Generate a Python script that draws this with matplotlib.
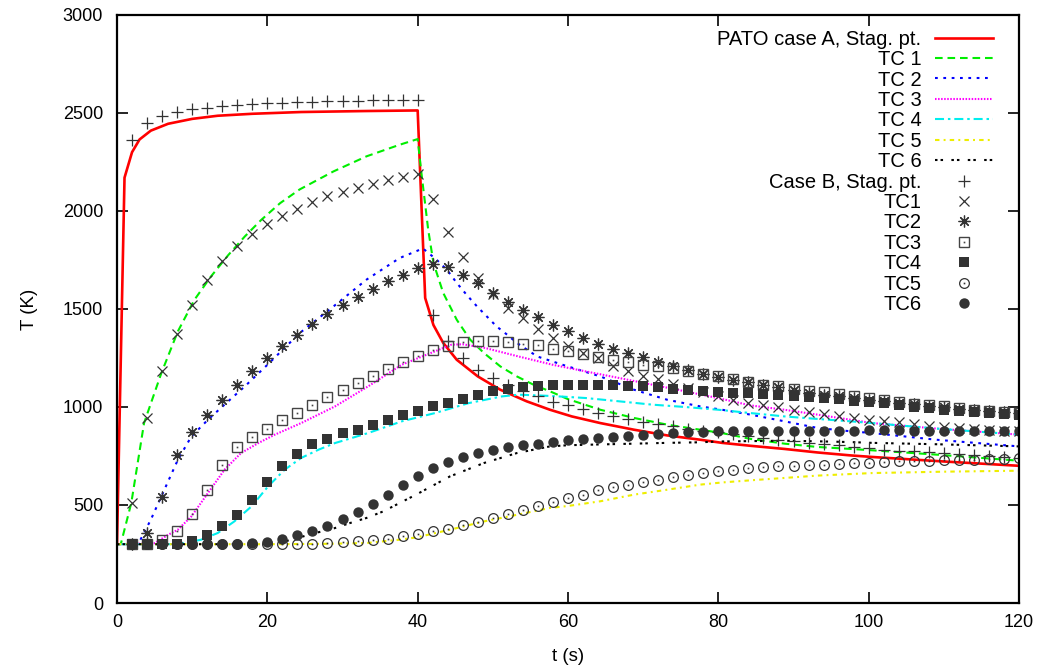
import matplotlib
matplotlib.use("Agg")
import matplotlib.pyplot as plt
from matplotlib.legend_handler import HandlerTuple
import numpy as np

plt.rcParams['font.family'] = ['Liberation Sans', 'DejaVu Sans']
plt.rcParams['lines.scale_dashes'] = False

# ---------------- data ----------------
# experimental time grid (markers), s
t_exp = list(range(2, 121, 2))

caseB_stag = [2360, 2450, 2485, 2505, 2518, 2528, 2535, 2540, 2545, 2550,
              2553, 2555, 2557, 2559, 2561, 2563, 2564, 2566, 2567, 2568,
              1467, 1335, 1251, 1190, 1148, 1113, 1080, 1054, 1028, 1008,
              990, 969, 952, 939, 926, 915, 901, 889, 880, 872,
              864, 852, 840, 833, 828, 818, 812, 806, 797, 791,
              783, 778, 773, 770, 765, 760, 754, 750, 745, 740]
caseB_tc1 = [510, 944, 1182, 1372, 1522, 1646, 1743, 1819, 1883, 1932,
             1976, 2012, 2046, 2074, 2097, 2117, 2137, 2160, 2173, 2190,
             2062, 1893, 1765, 1658, 1578, 1506, 1452, 1399, 1354, 1310,
             1273, 1248, 1210, 1182, 1156, 1142, 1118, 1095, 1075, 1054,
             1037, 1022, 1009, 999, 985, 974, 966, 955, 944, 935,
             931, 925, 912, 903, 900, 893, 887, 884, 880, 877]
caseB_tc2 = [300, 357, 541, 753, 872, 957, 1037, 1114, 1182, 1250,
             1313, 1365, 1423, 1474, 1518, 1561, 1602, 1641, 1675, 1709,
             1731, 1714, 1675, 1633, 1582, 1536, 1496, 1457, 1420, 1386,
             1352, 1323, 1297, 1275, 1253, 1230, 1207, 1187, 1170, 1153,
             1139, 1126, 1114, 1100, 1085, 1071, 1063, 1054, 1046, 1038,
             1030, 1022, 1014, 1006, 999, 992, 986, 980, 975, 970]
caseB_tc3 = [300, 302, 323, 369, 456, 578, 706, 794, 847, 889,
             932, 969, 1012, 1049, 1088, 1122, 1160, 1195, 1230, 1260,
             1289, 1312, 1332, 1338, 1335, 1332, 1323, 1314, 1297, 1284,
             1272, 1255, 1241, 1230, 1216, 1207, 1199, 1182, 1170, 1156,
             1143, 1126, 1114, 1105, 1092, 1083, 1075, 1066, 1054, 1046,
             1037, 1025, 1017, 1012, 1003, 995, 986, 981, 974, 970]
caseB_tc4 = [300, 300, 300, 302, 314, 345, 391, 450, 527, 615,
             700, 762, 811, 838, 867, 884, 910, 935, 957, 981,
             1003, 1022, 1042, 1063, 1080, 1092, 1102, 1109, 1110, 1110,
             1114, 1110, 1110, 1109, 1105, 1100, 1093, 1088, 1083, 1078,
             1073, 1069, 1064, 1060, 1055, 1049, 1045, 1040, 1033, 1027,
             1018, 1008, 1001, 995, 987, 981, 976, 970, 965, 961]
caseB_tc5 = [300, 300, 300, 300, 300, 300, 300, 300, 300, 300,
             300, 300, 302, 306, 309, 314, 319, 328, 340, 352,
             365, 379, 396, 413, 434, 454, 472, 493, 513, 536,
             553, 574, 590, 604, 617, 629, 641, 651, 663, 671,
             680, 689, 694, 697, 700, 706, 706, 711, 714, 716,
             719, 722, 725, 726, 728, 731, 732, 735, 737, 740]
caseB_tc6 = [300, 300, 300, 300, 300, 300, 300, 301, 306, 313,
             328, 345, 365, 394, 429, 464, 507, 553, 600, 647,
             689, 719, 745, 765, 779, 794, 804, 813, 821, 830,
             837, 842, 847, 854, 859, 864, 867, 870, 872, 876,
             877, 878, 878, 879, 879, 880, 880, 880, 880, 881,
             881, 881, 880, 880, 880, 879, 879, 879, 878, 878]

# simulation curves (PATO case A)
t_stag = [0, 1.0, 2.0, 3.0, 4.5, 6.8, 10, 13.4, 18, 24.5, 33, 40,
          41, 42.1, 43.4, 45.2, 48, 51, 54.5, 57.6, 60.5, 64.3, 68.8, 73.2,
          77.6, 80.5, 84.3, 88.8, 93.2, 97.6, 100.5, 110, 120]
T_stag = [300, 2170, 2300, 2365, 2410, 2445, 2470, 2486, 2496, 2505, 2510, 2513,
          1556, 1418, 1327, 1241, 1156, 1088, 1029, 986, 952, 918, 884, 855,
          833, 817, 802, 786, 768, 753, 745, 722, 700]

t_tc1 = [0, 0.5, 1.9, 3.6, 5.9, 8.1, 10.3, 12.5, 14.8, 17,
         19.2, 21.7, 24.3, 28.8, 33.2, 37.6, 40, 40.5, 41.4, 42.1, 43.4,
         45.2, 47, 48.8, 51, 53.2, 55.4, 57.6, 60, 64.3, 68.8,
         73.2, 77.6, 80.5, 84.3, 88.8, 93.2, 97.6, 100.5, 109, 120]
T_tc1 = [300, 300, 510, 918, 1173, 1386, 1547, 1666, 1775, 1870,
         1955, 2040, 2110, 2202, 2279, 2338, 2367, 2194, 1905, 1735, 1582,
         1445, 1343, 1276, 1207, 1156, 1114, 1080, 1040, 986, 944,
         910, 884, 867, 837, 813, 796, 786, 779, 757, 726]

t_tc2 = [0, 2, 3, 4.5, 6.3, 8.1, 9.9, 12.1, 14.3, 17,
         20, 24.3, 28.8, 33.2, 37.6, 40.7, 42.5, 43.9, 45.2, 46.5,
         47.9, 49.2, 50.5, 51.9, 53.2, 55.9, 59.4, 64.3, 68.8, 73.2,
         77.6, 80.5, 84.3, 88.8, 93.2, 97.6, 100.5, 109, 120]
T_tc2 = [300, 300, 314, 425, 578, 731, 850, 935, 1012, 1105,
         1215, 1377, 1513, 1650, 1760, 1809, 1752, 1700, 1633, 1573,
         1513, 1462, 1411, 1369, 1327, 1258, 1214, 1156, 1088, 1037,
         1003, 986, 961, 927, 893, 876, 867, 833, 799]

t_tc3 = [0, 5, 6.8, 8.1, 9.9, 12.1, 14.3, 16.5, 18.8, 21,
         24.5, 29, 33.4, 37.9, 42.3, 44.5, 46, 49, 53.4, 57.9,
         62.3, 66.8, 71.2, 75.6, 80, 84.3, 88.8, 93.2, 97.6, 100.5,
         109, 120]
T_tc3 = [300, 305, 348, 374, 442, 561, 680, 765, 816, 859,
         918, 1003, 1105, 1216, 1284, 1318, 1320, 1301, 1258, 1216,
         1182, 1148, 1114, 1080, 1045, 1008, 986, 961, 935, 918,
         890, 859]

t_tc4 = [0, 8.1, 11.2, 13.4, 15.6, 17.9, 20.1, 22.3, 24.5, 26.8,
         29, 33.4, 37.9, 42.3, 46.8, 51.2, 53.4, 57.9, 62.3, 66.8,
         71.2, 75.6, 80, 84.3, 88.8, 93.2, 97.6, 100.5, 109, 120]
T_tc4 = [300, 300, 323, 357, 416, 493, 595, 680, 740, 782,
         816, 867, 927, 969, 1020, 1054, 1063, 1056, 1046, 1029,
         1012, 1000, 986, 969, 952, 939, 927, 918, 890, 859]

t_tc5 = [0, 20, 28, 33.2, 37.6, 39.9, 44.3, 48.8, 53.2, 57.6,
         60, 64.3, 68.8, 73.2, 77.6, 80.5, 84.3, 88.8, 93.2, 97.6,
         100.5, 110, 120]
T_tc5 = [300, 300, 302, 306, 323, 335, 374, 416, 450, 485,
         495, 519, 553, 578, 604, 615, 626, 638, 650, 658,
         663, 670, 675]

t_tc6 = [0, 18, 22.3, 26.7, 28.8, 31, 33.2, 35.4, 37.6, 39.9,
         41, 44.3, 48.8, 53.2, 57.6, 60, 64.3, 68.8, 73.2, 77.6,
         80, 88.8, 93.2, 97.6, 100.5, 109, 120]
T_tc6 = [300, 300, 314, 360, 380, 408, 434, 467, 510, 555,
         578, 646, 714, 765, 799, 805, 809, 813, 817, 820,
         824, 828, 825, 821, 817, 810, 799]

x_ticks = [0, 20, 40, 60, 80, 100, 120]
y_ticks = [0, 500, 1000, 1500, 2000, 2500, 3000]

# ---------------- figure ----------------
fig = plt.figure(figsize=(10.42, 6.71), dpi=100)
ax = fig.add_axes([117/1042, 1 - 603/671, (1019 - 117)/1042, (603 - 15)/671])

lw = 1.5
h = []
h.append(ax.plot(t_stag, T_stag, color='#ff0000', lw=1.9, label='PATO case A, Stag. pt.')[0])
h.append(ax.plot(t_tc1, T_tc1, color='#00ee00', lw=lw, dashes=(5.5, 3.5), label='TC 1')[0])
h.append(ax.plot(t_tc2, T_tc2, color='#0000ff', lw=lw, dashes=(2.0, 4.0), label='TC 2')[0])
h.append(ax.plot(t_tc3, T_tc3, color='#ff00ff', lw=lw, dashes=(1.1, 1.1), label='TC 3')[0])
h.append(ax.plot(t_tc4, T_tc4, color='#00eeee', lw=lw, dashes=(6.5, 2.8, 1.8, 2.8), label='TC 4')[0])
h.append(ax.plot(t_tc5, T_tc5, color='#eeee00', lw=lw, dashes=(3.2, 3.0, 1.4, 3.0), label='TC 5')[0])
h.append(ax.plot(t_tc6, T_tc6, color='#000000', lw=lw, dashes=(1.8, 2.2, 1.8, 6.0), label='TC 6')[0])

mc = '#333333'
mew = 0.9
m_stag, = ax.plot(t_exp, caseB_stag, ls='none', marker='+', ms=8, mew=mew, color=mc)
m1, = ax.plot(t_exp, caseB_tc1, ls='none', marker='x', ms=7, mew=mew, color=mc)
m2, = ax.plot(t_exp, caseB_tc2, ls='none', marker=(8, 2, 0), ms=8.5, mew=mew, color=mc)
m3, = ax.plot(t_exp, caseB_tc3, ls='none', marker='s', ms=7, mew=1.0, mfc='none', mec='#444444')
m3d, = ax.plot(t_exp, caseB_tc3, ls='none', marker='s', ms=1.2, mew=0, mfc='#444444')
m4, = ax.plot(t_exp, caseB_tc4, ls='none', marker='s', ms=7.5, mew=0, mfc=mc)
m5, = ax.plot(t_exp, caseB_tc5, ls='none', marker='o', ms=7, mew=0.9, mfc='none', mec=mc)
m5d, = ax.plot(t_exp, caseB_tc5, ls='none', marker='s', ms=1.2, mew=0, mfc=mc)
m6, = ax.plot(t_exp, caseB_tc6, ls='none', marker='o', ms=7.5, mew=0, mfc=mc)

handles = h + [m_stag, m1, m2, (m3, m3d), m4, (m5, m5d), m6]
labels = ['PATO case A, Stag. pt.', 'TC 1', 'TC 2', 'TC 3', 'TC 4', 'TC 5', 'TC 6',
          'Case B, Stag. pt.', 'TC1', 'TC2', 'TC3', 'TC4', 'TC5', 'TC6']

leg = ax.legend(handles, labels, loc='upper right', bbox_to_anchor=(876/902, 0.975),
                frameon=False, markerfirst=False, fontsize=14.5, handlelength=2.9,
                handletextpad=0.65, labelspacing=0.07, borderpad=0, borderaxespad=0,
                numpoints=1, handler_map={tuple: HandlerTuple(ndivide=1)})

ax.set_xlim(0, 120)
ax.set_ylim(0, 3000)
ax.set_xticks(x_ticks)
ax.set_yticks(y_ticks)
ax.tick_params(direction='in', length=8, width=1.2, top=True, right=True,
               labelsize=13, pad=8)
ax.tick_params(axis='y', pad=10)
for s in ax.spines.values():
    s.set_linewidth(1.6)
ax.set_xlabel('t (s)', fontsize=13.5, labelpad=12)
ax.set_ylabel('T (K)', fontsize=13.5, labelpad=18)

fig.savefig('out.png', dpi=100)
